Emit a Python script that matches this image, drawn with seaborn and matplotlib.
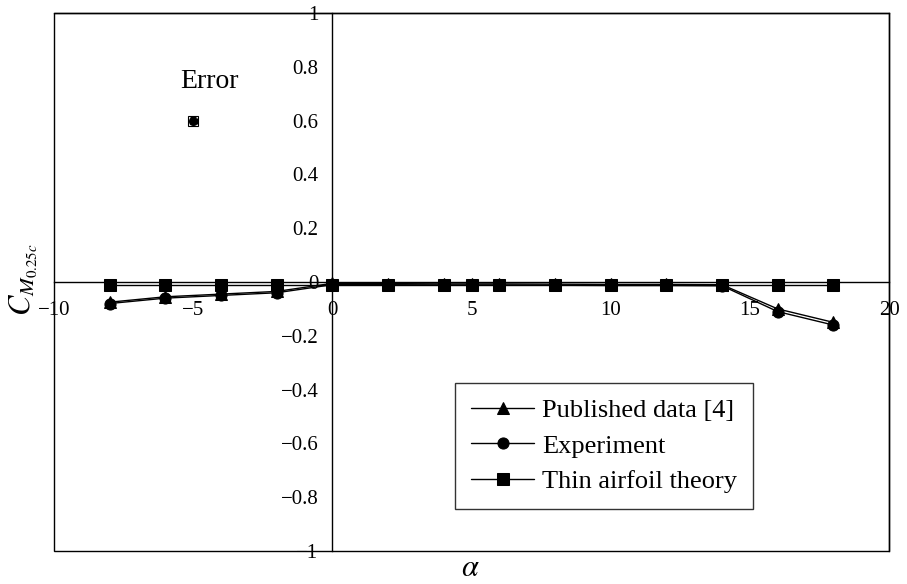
import numpy as np
import pandas as pd
import matplotlib.pyplot as plt
import seaborn as sns
from matplotlib.patches import Rectangle

# dados
alpha = [-8, -6, -4, -2, 0, 2, 4, 5, 6, 8, 10, 12, 14, 16, 18]
publicado = [-0.075, -0.055, -0.045, -0.035, -0.005, -0.006, -0.007, -0.007, -0.007, -0.008, -0.009, -0.009, -0.01, -0.1, -0.15]
experimento = [-0.08, -0.06, -0.05, -0.04, -0.01, -0.01, -0.011, -0.011, -0.011, -0.012, -0.013, -0.013, -0.014, -0.11, -0.16]
teoria = [-0.01] * len(alpha)
erro_x = [-5]
erro_y = [0.6]
erro_barra = [0.012]

sns.set_theme(style="white")
plt.rcParams['font.family'] = ['Liberation Serif', 'DejaVu Serif']
plt.rcParams['mathtext.fontset'] = 'stix'
plt.rcParams['text.color'] = 'black'

fig = plt.figure(figsize=(9.07, 5.84), dpi=100)
ax = fig.add_axes([54 / 907, 33 / 584, (889 - 54) / 907, (551 - 13) / 584])

sns.lineplot(x=alpha, y=publicado, marker="^", color="black", lw=1.0, markersize=8,
             markeredgecolor="black", label="Published data [4]", ax=ax)
sns.lineplot(x=alpha, y=experimento, marker="o", color="black", lw=1.0, markersize=8,
             markeredgecolor="black", label="Experiment", ax=ax)
sns.lineplot(x=alpha, y=teoria, marker="s", color="black", lw=1.0, markersize=8,
             markeredgecolor="black", label="Thin airfoil theory", ax=ax)

ax.errorbar(erro_x, erro_y, xerr=[0.12], yerr=erro_barra, fmt="o", color="black",
            markersize=5.5, capsize=2, lw=0.8)
ax.plot(erro_x, erro_y, marker="s", mfc="none", mec="black", mew=0.8, markersize=7.5, ls="none")
ax.text(-4.43, 0.745, "Error", fontsize=20, ha="center", va="center")

ax.set_xlim(-10, 20)
ax.set_ylim(-1, 1)
ax.set_xticks([-10, -5, 0, 5, 10, 15, 20])
ax.set_yticks(np.arange(-1, 1.01, 0.2))
ax.set_xticklabels(["\u221210", "\u22125", "0", "5", "10", "15", "20"])
ax.set_yticklabels(["\u22121", "\u22120.8", "\u22120.6", "\u22120.4", "\u22120.2", "0",
                    "0.2", "0.4", "0.6", "0.8", "1"])

# eixos passando pela origem
ax.spines['left'].set_position(('data', 0))
ax.spines['bottom'].set_position(('data', 0))
for s in ['left', 'bottom', 'top', 'right']:
    ax.spines[s].set_color("black")
    ax.spines[s].set_linewidth(1.0)
ax.add_patch(Rectangle((0, 0), 1, 1, transform=ax.transAxes, fill=False,
                       edgecolor="black", lw=1.0, clip_on=False))
ax.tick_params(axis="x", direction="in", length=8, width=1, labelsize=15, pad=14, colors="black")
ax.tick_params(axis="y", direction="inout", length=10, width=1, labelsize=15, pad=5, colors="black")

fig.text(24 / 907, 1 - 280 / 584, r"$C_{M_{0.25c}}$", rotation=90, fontsize=22,
         ha="center", va="center")
fig.text(470 / 907, 1 - 568 / 584, r"$\alpha$", fontsize=22, ha="center", va="center")

leg = ax.legend(loc="upper left", bbox_to_anchor=((455 - 54) / 835, 1 - (383 - 13) / 538),
                borderaxespad=0, frameon=True, fancybox=False, edgecolor="black", fontsize=19,
                handlelength=2.4, handletextpad=0.3, borderpad=0.6, labelspacing=0.45)
leg.get_frame().set_linewidth(1.0)

fig.savefig("out.png", dpi=100)
